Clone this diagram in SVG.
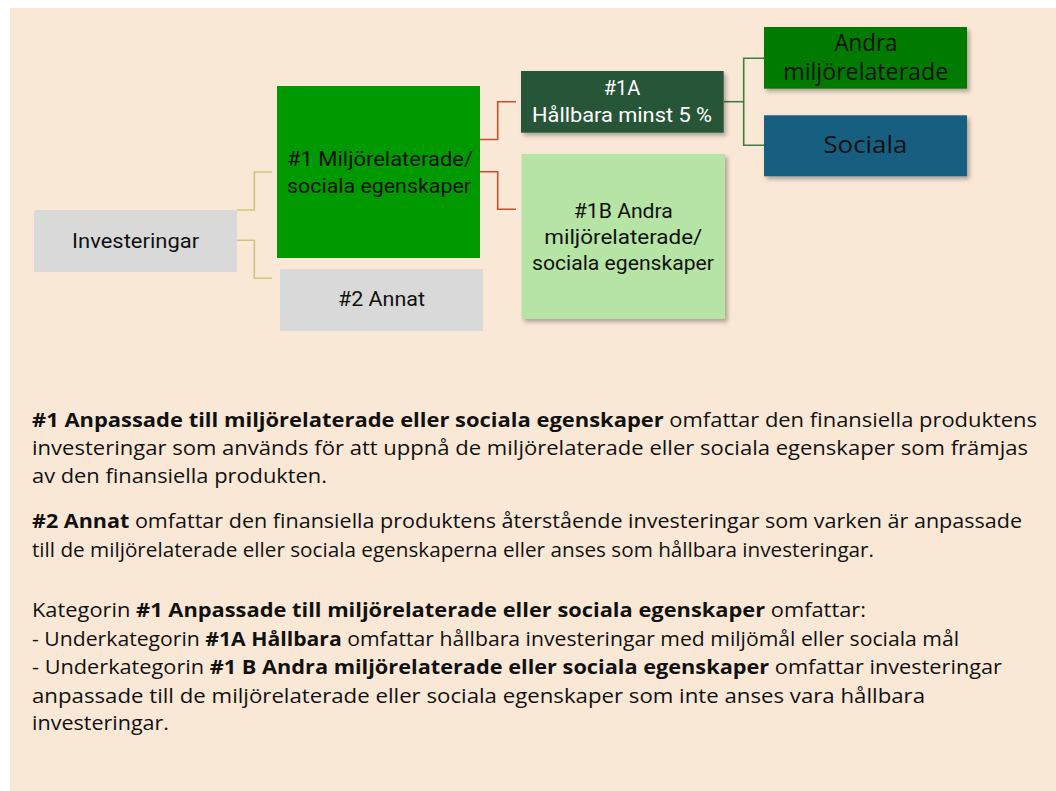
<svg xmlns="http://www.w3.org/2000/svg" width="1056" height="791" viewBox="0 0 1056 791">
<defs>
<style>
.bg{fill:#FAE8D7}
.nt{font-family:Roboto,"Liberation Sans",sans-serif;fill:#111}
.na{font-family:"Open Sans","Noto Sans",sans-serif;fill:#111;font-size:23px}
.body{font-family:"Open Sans","Noto Sans",sans-serif;font-size:20px;fill:#111}
.b{font-weight:bold}
.cy{fill:none;stroke:#D2C37B;stroke-width:1.6}
.cr{fill:none;stroke:#C6502E;stroke-width:1.6}
.cg{fill:none;stroke:#3E7D3E;stroke-width:1.6}
</style>
<filter id="sh" x="-10%" y="-10%" width="130%" height="140%">
<feDropShadow dx="2.5" dy="3" stdDeviation="2" flood-color="#000" flood-opacity="0.3"/>
</filter>
</defs>
<rect x="0" y="0" width="1056" height="791" fill="#FFFFFF"/>
<rect class="bg" x="10" y="8" width="1046" height="783"/>

<g id="connectors">
<polyline class="cy" points="237,210 254.3,210 254.3,172 272,172"/>
<polyline class="cy" points="237,240.3 254.3,240.3 254.3,278.3 272,278.3"/>
<polyline class="cr" points="480,139.5 497.7,139.5 497.7,101.7 516,101.7"/>
<polyline class="cr" points="480,171.7 497.7,171.7 497.7,209.3 516,209.3"/>
<polyline class="cg" points="724,101.7 743.7,101.7"/>
<polyline class="cg" points="764,58.3 743.7,58.3 743.7,145.3 764,145.3"/>
</g>

<g id="node-investeringar">
<rect x="34" y="210" width="203" height="62" fill="#D9D9D9"/>
<text class="nt" x="135.6" y="248.3" font-size="21" text-anchor="middle" textLength="127" lengthAdjust="spacingAndGlyphs">Investeringar</text>
</g>

<g id="node-1">
<rect x="277" y="86" width="203" height="172" fill="#009900"/>
<text class="nt" x="287" y="165.7" font-size="21" textLength="186" lengthAdjust="spacingAndGlyphs">#1 Miljörelaterade/</text>
<text class="nt" x="287" y="192.5" font-size="21" textLength="184" lengthAdjust="spacingAndGlyphs">sociala egenskaper</text>
</g>

<g id="node-2">
<rect x="280" y="269" width="203" height="62" fill="#D9D9D9"/>
<text class="nt" x="381.5" y="306" font-size="21" text-anchor="middle" textLength="87" lengthAdjust="spacingAndGlyphs">#2 Annat</text>
</g>

<g id="node-1a">
<rect x="521" y="71" width="202.7" height="61.7" fill="#265439" filter="url(#sh)"/>
<text class="nt" x="622" y="95" font-size="20" text-anchor="middle" fill="#FFFFFF" style="fill:#FFFFFF" textLength="36.5" lengthAdjust="spacingAndGlyphs">#1A</text>
<text class="nt" x="622" y="122" font-size="20" text-anchor="middle" style="fill:#FFFFFF" textLength="180" lengthAdjust="spacingAndGlyphs">Hållbara minst 5 %</text>
</g>

<g id="node-1b">
<rect x="521.7" y="154" width="203.3" height="165" fill="#B5E4A5" filter="url(#sh)"/>
<text class="nt" x="623.3" y="217.7" font-size="20" text-anchor="middle" textLength="99" lengthAdjust="spacingAndGlyphs">#1B Andra</text>
<text class="nt" x="623.3" y="244.3" font-size="20" text-anchor="middle" textLength="158" lengthAdjust="spacingAndGlyphs">miljörelaterade/</text>
<text class="nt" x="623" y="270" font-size="20" text-anchor="middle" textLength="182" lengthAdjust="spacingAndGlyphs">sociala egenskaper</text>
</g>

<g id="node-andra">
<rect x="764" y="27" width="203" height="61.7" fill="#007A00" filter="url(#sh)"/>
<text class="na" x="866" y="51" text-anchor="middle" textLength="63" lengthAdjust="spacingAndGlyphs">Andra</text>
<text class="na" x="865.7" y="80.3" text-anchor="middle" textLength="165" lengthAdjust="spacingAndGlyphs">miljörelaterade</text>
</g>

<g id="node-sociala">
<rect x="764" y="115.3" width="203" height="61" fill="#165E80" filter="url(#sh)"/>
<text class="na" x="865.4" y="152.7" text-anchor="middle" textLength="84" lengthAdjust="spacingAndGlyphs">Sociala</text>
</g>

<g id="description">
<text class="body" x="32" y="426.7" textLength="1005" lengthAdjust="spacingAndGlyphs"><tspan class="b">#1 Anpassade till miljörelaterade eller sociala egenskaper</tspan> omfattar den finansiella produktens</text>
<text class="body" x="32" y="455" textLength="996" lengthAdjust="spacingAndGlyphs">investeringar som används för att uppnå de miljörelaterade eller sociala egenskaper som främjas</text>
<text class="body" x="32" y="483.3" textLength="295" lengthAdjust="spacingAndGlyphs">av den finansiella produkten.</text>
<text class="body" x="32" y="528.3" textLength="990" lengthAdjust="spacingAndGlyphs"><tspan class="b">#2 Annat</tspan> omfattar den finansiella produktens återstående investeringar som varken är anpassade</text>
<text class="body" x="32" y="556.7" textLength="842" lengthAdjust="spacingAndGlyphs">till de miljörelaterade eller sociala egenskaperna eller anses som hållbara investeringar.</text>
<text class="body" x="32" y="617.3" textLength="834" lengthAdjust="spacingAndGlyphs">Kategorin <tspan class="b">#1 Anpassade till miljörelaterade eller sociala egenskaper</tspan> omfattar:</text>
<text class="body" x="32" y="646" textLength="927" lengthAdjust="spacingAndGlyphs">- Underkategorin <tspan class="b">#1A Hållbara</tspan> omfattar hållbara investeringar med miljömål eller sociala mål</text>
<text class="body" x="32" y="674" textLength="970" lengthAdjust="spacingAndGlyphs">- Underkategorin <tspan class="b">#1 B Andra miljörelaterade eller sociala egenskaper</tspan> omfattar investeringar</text>
<text class="body" x="32" y="702.7" textLength="893" lengthAdjust="spacingAndGlyphs">anpassade till de miljörelaterade eller sociala egenskaper som inte anses vara hållbara</text>
<text class="body" x="32" y="730" textLength="137" lengthAdjust="spacingAndGlyphs">investeringar.</text>
</g>
</svg>
